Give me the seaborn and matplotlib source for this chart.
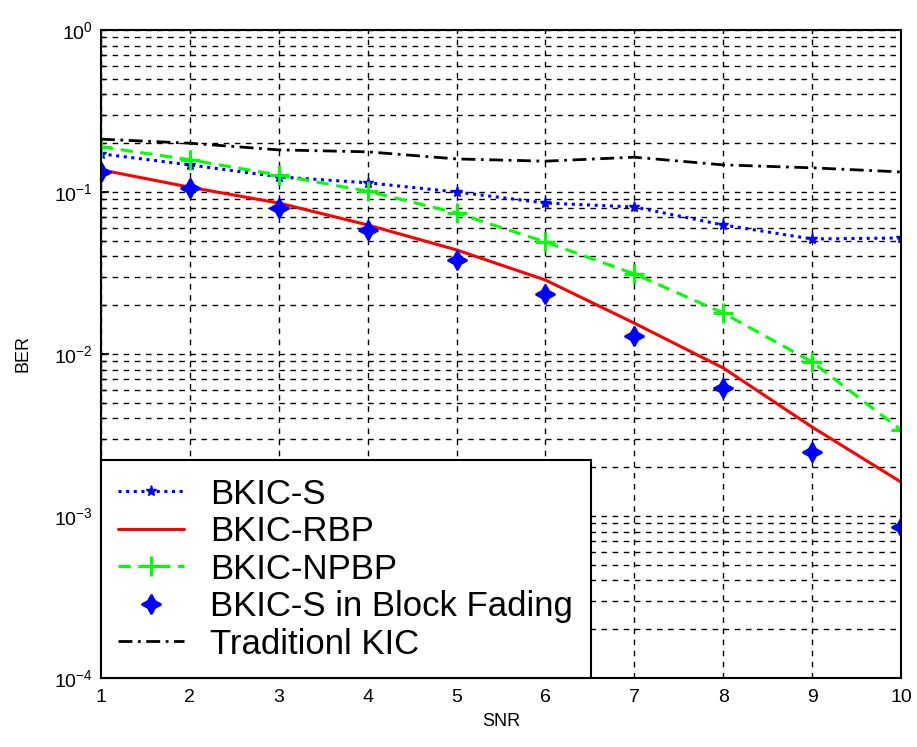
import numpy as np
import pandas as pd
import matplotlib
matplotlib.use("Agg")
import matplotlib.pyplot as plt
import seaborn as sns

snr = [1, 2, 3, 4, 5, 6, 7, 8, 9, 10]
bkic_s = [0.172, 0.147, 0.124, 0.114, 0.100, 0.0855, 0.0808, 0.0626, 0.0513, 0.0520]
bkic_rbp = [0.137, 0.107, 0.0855, 0.0626, 0.0439, 0.0286, 0.0155, 0.0082, 0.00354, 0.00162]
bkic_npbp = [0.190, 0.158, 0.127, 0.101, 0.0742, 0.0491, 0.0312, 0.0179, 0.00893, 0.0034]
bkic_s_block = [0.133, 0.106, 0.0796, 0.0582, 0.038, 0.0235, 0.0129, 0.0062, 0.0025, 0.000855]
trad_kic = [0.212, 0.200, 0.182, 0.177, 0.160, 0.155, 0.164, 0.147, 0.141, 0.133]
labels = ["BKIC-S", "BKIC-RBP", "BKIC-NPBP", "BKIC-S in Block Fading", "Traditionl KIC"]

sns.set_theme(style="white")
plt.rcParams['font.family'] = ['Liberation Sans', 'DejaVu Sans']
plt.rcParams['text.color'] = 'black'
plt.rcParams['axes.labelcolor'] = 'black'

fig = plt.figure(figsize=(9.17, 7.47), dpi=100)
ax = fig.add_axes([101/917, 1-678/747, 800/917, 648/747])

series = [bkic_s, bkic_rbp, bkic_npbp, bkic_s_block, trad_kic]
styles = [
    dict(color="#0000ff", linestyle=(0, (1, 1.5)), linewidth=2.2, marker="*", markersize=8,
         markeredgecolor="#0000ff", markerfacecolor="#0000ff", markeredgewidth=1),
    dict(color="#ff0000", linestyle="-", linewidth=2.2),
    dict(color="#00ff00", linestyle=(0, (4, 2.5)), linewidth=2.2, marker="+", markersize=15,
         markeredgecolor="#00ff00", markeredgewidth=2.2),
    dict(color="#0000ff", linestyle="none", marker=(4, 1, 0), markersize=14,
         markeredgecolor="#0000ff", markerfacecolor="#0000ff", markeredgewidth=1.5),
    dict(color="#000000", linestyle=(0, (5, 2, 1, 2)), linewidth=2),
]
for vals, lab, st in zip(series, labels, styles):
    df = pd.DataFrame({"SNR": snr, "BER": vals})
    sns.lineplot(data=df, x="SNR", y="BER", ax=ax, label=lab, **st)

ax.set_yscale("log")
ax.set_xlim(1, 10)
ax.set_ylim(1e-4, 1)
ax.set_xticks(snr)
ax.set_xticklabels([str(s) for s in snr])
ax.grid(True, which="major", axis="both", color="black", linestyle=(0, (4, 4)), linewidth=1)
ax.grid(True, which="minor", axis="y", color="black", linestyle=(0, (4, 4)), linewidth=1)
ax.tick_params(which="both", direction="in", labelsize=14, colors="black")
ax.tick_params(which="major", length=6)
ax.tick_params(which="minor", length=3, left=True)
ax.tick_params(axis="y", which="both", left=True, pad=6)
ax.tick_params(axis="x", pad=8)
for sp in ax.spines.values():
    sp.set_color("black")
    sp.set_linewidth(1.5)
ax.set_xlabel("SNR", fontsize=13, labelpad=5)
ax.set_ylabel("BER", fontsize=13, labelpad=16)

leg = ax.legend(loc="lower left", fontsize=25, frameon=True, fancybox=False,
                borderaxespad=0, handlelength=1.9, framealpha=1, edgecolor="black",
                labelspacing=0.13, borderpad=0.5, handletextpad=0.75)
leg.get_frame().set_linewidth(1.5)
for t in leg.get_texts():
    t.set_color("black")

fig.savefig("out.png", dpi=100)
